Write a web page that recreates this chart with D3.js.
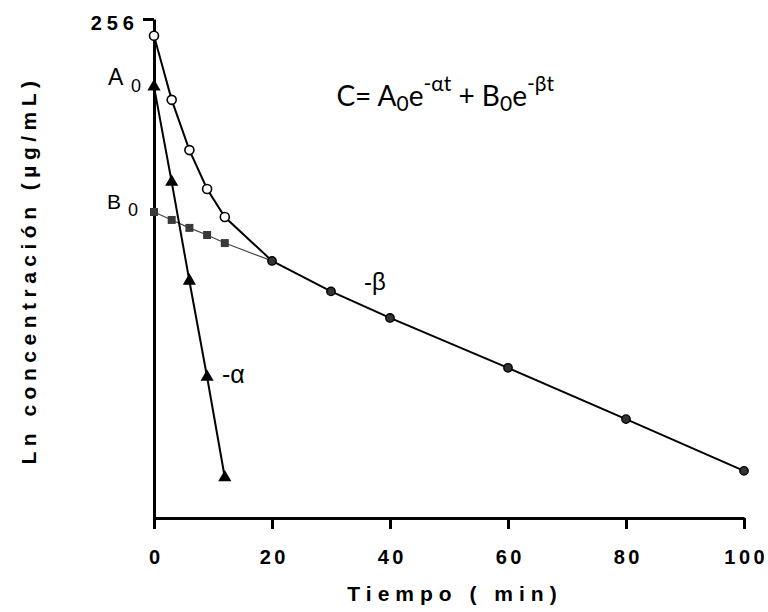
<!DOCTYPE html>
<html>
<head>
<meta charset="utf-8">
<script src="https://cdn.jsdelivr.net/npm/d3@7"></script>
<style>
    body { margin: 0; background: #fff; }
    svg { display: block; }
    .axis text { font-family: "Liberation Sans", Arial, sans-serif; font-weight: bold; font-size: 20px; letter-spacing: 3.5px; fill: #000; }
    .axis path, .axis line { stroke: #000; stroke-width: 3; }
    .title { font-family: "Liberation Sans", Arial, sans-serif; font-weight: bold; font-size: 21px; fill: #000; }
    .lbl { font-family: "Liberation Sans", Arial, sans-serif; fill: #000; }
    .eq { font-family: Lato, "Open Sans", sans-serif; fill: #000; }
</style>
</head>
<body>
<svg id="chart" width="768" height="612"></svg>
<script>
    'use strict';

    // time points (min)
    var tPhase = [0, 3, 6, 9, 12];
    var tBeta = [20, 30, 40, 60, 80, 100];

    // concentrations
    var sumValues = [228, 146, 103, 78.6, 64.7];      // open circles, C
    var alphaValues = [160, 82.5, 41.5, 21.3, 10.6];  // triangles, -alpha
    var bValues = [67, 63.4, 60, 57.1, 54];           // squares, back-extrapolated B
    var betaValues = [47.7, 38.6, 32.1, 22.7, 15.9, 11.1]; // terminal phase

    var xTicks = [0, 20, 40, 60, 80, 100];
    var yTicks = [256];

    var svg = d3.select('#chart');

    var x = d3.scaleLinear().domain([0, 100]).range([154, 744]);
    var y = d3.scaleLog().domain([8, 256]).range([518, 19]);

    function pts(ts, vs) {
        return ts.map(function (t, i) { return { t: t, v: vs[i] }; });
    }

    var sumPts = pts(tPhase, sumValues);
    var alphaPts = pts(tPhase, alphaValues);
    var bPts = pts(tPhase, bValues);
    var betaPts = pts(tBeta, betaValues);

    var line = d3.line()
        .x(function (d) { return x(d.t); })
        .y(function (d) { return y(d.v); });

    // axes
    svg.append('g')
        .attr('class', 'axis')
        .attr('transform', 'translate(0,' + y.range()[0] + ')')
        .call(d3.axisBottom(x).tickValues(xTicks).tickSize(11).tickSizeOuter(0).tickPadding(21))
        .call(function (g) { g.selectAll('text').attr('dx', '1.75px'); });

    svg.append('g')
        .attr('class', 'axis')
        .attr('transform', 'translate(' + x.range()[0] + ',0)')
        .call(d3.axisLeft(y).tickValues(yTicks).tickFormat(d3.format('d')).tickSize(11).tickSizeOuter(0).tickPadding(4))
        .call(function (g) { g.selectAll('text').attr('dy', '0.5em').style('letter-spacing', '5px'); });

    // lines
    svg.append('path')
        .attr('d', line(bPts.concat([betaPts[0]])))
        .attr('fill', 'none')
        .attr('stroke', '#444')
        .attr('stroke-width', 1.2);

    svg.append('path')
        .attr('d', line(sumPts.concat([betaPts[0]])))
        .attr('fill', 'none')
        .attr('stroke', '#000')
        .attr('stroke-width', 2);

    svg.append('path')
        .attr('d', line(betaPts))
        .attr('fill', 'none')
        .attr('stroke', '#000')
        .attr('stroke-width', 2);

    svg.append('path')
        .attr('d', line(alphaPts))
        .attr('fill', 'none')
        .attr('stroke', '#000')
        .attr('stroke-width', 2);

    // markers
    svg.append('g').selectAll('path')
        .data(bPts)
        .enter().append('path')
        .attr('d', d3.symbol(d3.symbolSquare, 64))
        .attr('transform', function (d) { return 'translate(' + x(d.t) + ',' + y(d.v) + ')'; })
        .attr('fill', '#3a3a3a');

    svg.append('g').selectAll('circle')
        .data(sumPts)
        .enter().append('circle')
        .attr('cx', function (d) { return x(d.t); })
        .attr('cy', function (d) { return y(d.v); })
        .attr('r', 4.5)
        .attr('fill', '#fff')
        .attr('stroke', '#000')
        .attr('stroke-width', 1.6);

    svg.append('g').selectAll('circle')
        .data(betaPts)
        .enter().append('circle')
        .attr('cx', function (d) { return x(d.t); })
        .attr('cy', function (d) { return y(d.v); })
        .attr('r', 4.2)
        .attr('fill', '#333')
        .attr('stroke', '#000')
        .attr('stroke-width', 1.4);

    svg.append('g').selectAll('path')
        .data(alphaPts)
        .enter().append('path')
        .attr('d', d3.symbol(d3.symbolTriangle, 75))
        .attr('transform', function (d) { return 'translate(' + x(d.t) + ',' + y(d.v) + ')'; })
        .attr('fill', '#000');

    // axis titles
    svg.append('text')
        .attr('class', 'title')
        .attr('x', 455)
        .attr('y', 601)
        .attr('text-anchor', 'middle')
        .attr('letter-spacing', '6px')
        .text('Tiempo ( min)');

    svg.append('text')
        .attr('class', 'title')
        .attr('transform', 'translate(36,270) rotate(-90)')
        .attr('text-anchor', 'middle')
        .attr('letter-spacing', '5.5px')
        .text('Ln concentración (µg/mL)');

    // point labels
    var a0 = svg.append('text').attr('class', 'lbl').attr('x', 108).attr('y', 85).attr('font-size', 23);
    a0.append('tspan').text('A');
    a0.append('tspan').attr('x', 131).attr('y', 92).attr('font-size', 18).text('0');

    var b0 = svg.append('text').attr('class', 'lbl').attr('x', 107).attr('y', 209).attr('font-size', 21);
    b0.append('tspan').text('B');
    b0.append('tspan').attr('x', 128).attr('y', 216).attr('font-size', 18).text('0');

    svg.append('text').attr('class', 'lbl').attr('x', 222).attr('y', 383).attr('font-size', 25).text('-α');
    svg.append('text').attr('class', 'lbl').attr('x', 364).attr('y', 290).attr('font-size', 24).text('-β');

    // equation
    var eq = svg.append('text').attr('class', 'eq')
        .attr('x', 554).attr('y', 106)
        .attr('text-anchor', 'end')
        .attr('font-size', 28);
    eq.append('tspan').text('C= A');
    eq.append('tspan').attr('dy', 5).attr('font-size', 21).text('0');
    eq.append('tspan').attr('dy', -5).text('e');
    eq.append('tspan').attr('dy', -15).attr('font-size', 21).text('-αt');
    eq.append('tspan').attr('dy', 15).text(' + B');
    eq.append('tspan').attr('dy', 5).attr('font-size', 21).text('0');
    eq.append('tspan').attr('dy', -5).text('e');
    eq.append('tspan').attr('dy', -15).attr('font-size', 21).text('-βt');
</script>
</body>
</html>
